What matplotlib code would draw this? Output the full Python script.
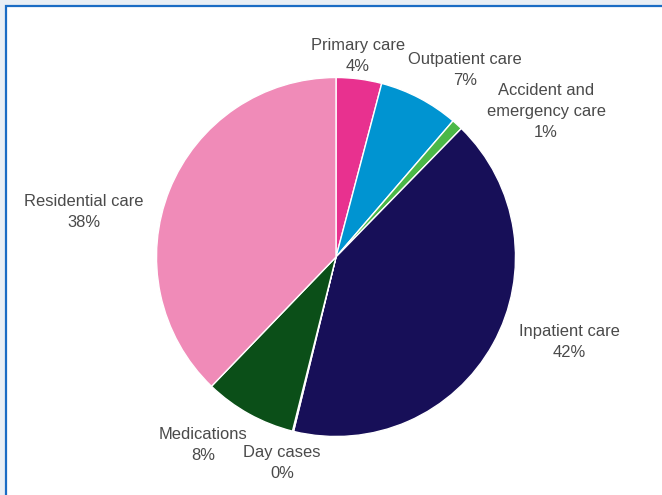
import matplotlib
matplotlib.use("Agg")
import matplotlib.pyplot as plt
from matplotlib.patches import Rectangle

categories = ["Primary care", "Outpatient care", "Accident and\nemergency care",
              "Inpatient care", "Day cases", "Medications", "Residential care"]
values = [4.1, 7.2, 1.0, 41.5, 0.1, 8.3, 37.8]
pct_labels = ["4%", "7%", "1%", "42%", "0%", "8%", "38%"]
colors = ["#e8318f", "#0094d1", "#4bb847", "#170f58", "#5a9a3a", "#0b4f18", "#f08bb8"]

# label positions in pie-radius units (layout only)
label_pos = [(0.123, 1.12), (0.719, 1.04), (1.170, 0.808), (1.298, -0.474),
             (-0.301, -1.148), (-0.741, -1.047), (-1.404, 0.251)]

W, H = 662, 495
cx, cy, R = 336, 257, 179.5

fig = plt.figure(figsize=(W / 100, H / 100), dpi=100)
fig.patch.set_facecolor("#e9eff5")
fig.patches.append(Rectangle((6 / W, -0.05), 1.1, (H - 6) / H + 0.05,
                             transform=fig.transFigure, facecolor="white",
                             edgecolor="#1a6cc4", linewidth=1.6, zorder=-10))

ax = fig.add_axes([0, 0, 1, 1])
ax.set_zorder(5)
ax.patch.set_visible(False)
ax.pie(values, colors=colors, startangle=90, counterclock=False, radius=1,
       wedgeprops=dict(edgecolor="white", linewidth=1.0))
ax.set_xlim(-cx / R, (W - cx) / R)
ax.set_ylim(-(H - cy) / R, cy / R)
ax.set_aspect("auto")
ax.axis("off")

for cat, pct, (x, y) in zip(categories, pct_labels, label_pos):
    ax.text(x, y, f"{cat}\n{pct}", ha="center", va="center", fontsize=11.9,
            color="#4a4a4a", family="Liberation Sans", linespacing=1.5)

fig.savefig("out.png", dpi=100)
